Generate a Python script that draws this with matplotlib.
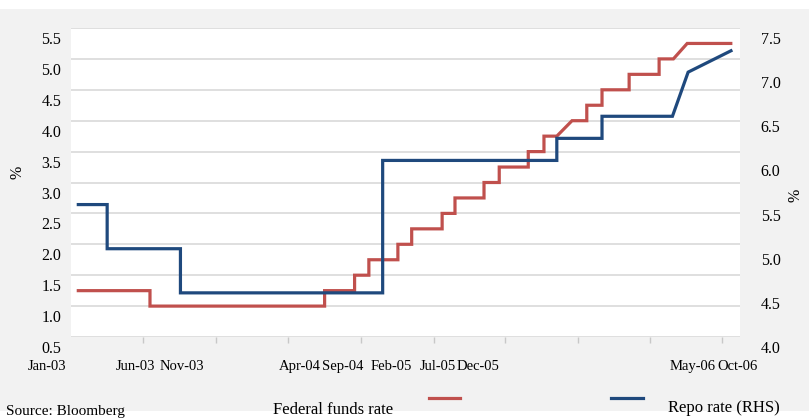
import matplotlib
matplotlib.use("Agg")
import matplotlib.pyplot as plt
import matplotlib.transforms as mtransforms
from matplotlib.lines import Line2D
from matplotlib.patches import Rectangle
import pandas as pd

# vertices of the two rate lines (steps are drawn as repeated dates)
fed_dates = ["2003-01-13", "2003-06-16", "2003-06-16", "2004-06-17", "2004-06-17",
             "2004-08-19", "2004-08-19", "2004-09-18", "2004-09-18", "2004-11-18",
             "2004-11-18", "2004-12-17", "2004-12-17", "2005-02-19", "2005-02-19",
             "2005-03-18", "2005-03-18", "2005-05-18", "2005-05-18", "2005-06-19",
             "2005-06-19", "2005-08-19", "2005-08-19", "2005-09-21", "2005-09-21",
             "2005-10-18", "2005-11-19", "2005-12-20", "2005-12-20", "2006-01-21",
             "2006-01-21", "2006-03-19", "2006-03-19", "2006-05-21", "2006-05-21",
             "2006-06-20", "2006-07-19", "2006-10-22"]
fed_rate = [1.25, 1.25, 1.00, 1.00, 1.25,
            1.25, 1.50, 1.50, 1.75, 1.75,
            2.00, 2.00, 2.25, 2.25, 2.50,
            2.50, 2.75, 2.75, 3.00, 3.00,
            3.25, 3.25, 3.50, 3.50, 3.75,
            3.75, 4.00, 4.00, 4.25, 4.25,
            4.50, 4.50, 4.75, 4.75, 5.00,
            5.00, 5.25, 5.25]

repo_dates = ["2003-01-13", "2003-03-18", "2003-03-18", "2003-08-19", "2003-08-19",
              "2004-10-17", "2004-10-17", "2005-10-18", "2005-10-18", "2006-01-21",
              "2006-01-21", "2006-06-18", "2006-07-21", "2006-10-22"]
repo_rate = [5.50, 5.50, 5.00, 5.00, 4.50,
             4.50, 6.00, 6.00, 6.25, 6.25,
             6.50, 6.50, 7.00, 7.25]

tick_dates = ["2003-06-01", "2003-11-01", "2004-04-01", "2004-09-01",
              "2005-02-01", "2005-07-01", "2005-12-01", "2006-05-01", "2006-10-01"]
tick_labels = ["Jan-03", "Jun-03", "Nov-03", "Apr-04", "Sep-04",
               "Feb-05", "Jul-05", "Dec-05", "May-06", "Oct-06"]
# where the labels actually sit in the source image (pixels)
label_px = [47, 135, 182, 300, 343, 391, 438, 478, 693, 738]

left_ticks = [0.5, 1.0, 1.5, 2.0, 2.5, 3.0, 3.5, 4.0, 4.5, 5.0, 5.5]
right_ticks = [4.0, 4.5, 5.0, 5.5, 6.0, 6.5, 7.0, 7.5]

RED = "#c0504d"
BLUE = "#1f497d"
W, H = 809, 419

plt.rcParams["font.family"] = ["Liberation Serif", "DejaVu Serif"]

fig = plt.figure(figsize=(W / 100, H / 100), dpi=100)
fig.patch.set_facecolor("white")
fig.patches.append(Rectangle((0, 1 - 411 / H), 1, (411 - 9) / H,
                             transform=fig.transFigure, facecolor="#f2f2f2",
                             edgecolor="none", zorder=-10))

ax = fig.add_axes([71 / W, 1 - 337 / H, 669 / W, 309 / H])
ax.set_facecolor("white")
ax2 = ax.twinx()

ax.plot(pd.to_datetime(fed_dates), fed_rate, color=RED, lw=2.3,
        solid_joinstyle="miter", solid_capstyle="butt")
ax2.plot(pd.to_datetime(repo_dates), repo_rate, color=BLUE, lw=2.3,
         solid_joinstyle="miter", solid_capstyle="butt")

ax.set_xlim(pd.Timestamp("2003-01-01"), pd.Timestamp("2006-11-07"))
ax.set_ylim(0.5, 5.5)
ax2.set_ylim(4.0, 7.5)

ax.set_yticks(left_ticks)
ax.set_yticklabels([f"{v:.1f}" for v in left_ticks])
ax2.set_yticks(right_ticks)
ax2.set_yticklabels([f"{v:.1f}" for v in right_ticks])

ax.grid(axis="y", color="#d9d9d9", lw=1.2)
ax.set_axisbelow(True)
for a in (ax, ax2):
    for s in a.spines.values():
        s.set_visible(False)

ax.set_xticks(pd.to_datetime(tick_dates))
ax.set_xticklabels([])
ax.tick_params(axis="x", direction="out", length=4, width=1, color="#c8c8c8")
ax.tick_params(axis="y", length=0, pad=7, labelsize=11.5)
ax2.tick_params(axis="y", length=0, pad=15, labelsize=11.5)

# the y labels sit a little below their gridlines in the source
shift = mtransforms.ScaledTranslation(0, -0.10, fig.dpi_scale_trans)
for lab in ax.get_yticklabels() + ax2.get_yticklabels():
    lab.set_transform(lab.get_transform() + shift)

for txt, px in zip(tick_labels, label_px):
    fig.text(px / W, 1 - 366 / H, txt, ha="center", va="center", fontsize=10.5)

fig.text(18 / W, 1 - 172 / H, "%", rotation=90, ha="center", va="center", fontsize=11.5)
fig.text(795 / W, 1 - 195 / H, "%", rotation=90, ha="center", va="center", fontsize=11.5)

# legend
fig.lines.append(Line2D([429 / W, 460 / W], [1 - 398 / H] * 2, color=RED, lw=2.3,
                        transform=fig.transFigure))
fig.lines.append(Line2D([611 / W, 643 / W], [1 - 398 / H] * 2, color=BLUE, lw=2.3,
                        transform=fig.transFigure))
fig.text(273 / W, 1 - 410 / H, "Federal funds rate", ha="left", va="center", fontsize=12)
fig.text(668 / W, 1 - 408 / H, "Repo rate (RHS)", ha="left", va="center", fontsize=12)

fig.text(6 / W, 1 - 411 / H, "Source: Bloomberg", ha="left", va="center", fontsize=11)

fig.savefig("out.png", dpi=100)
